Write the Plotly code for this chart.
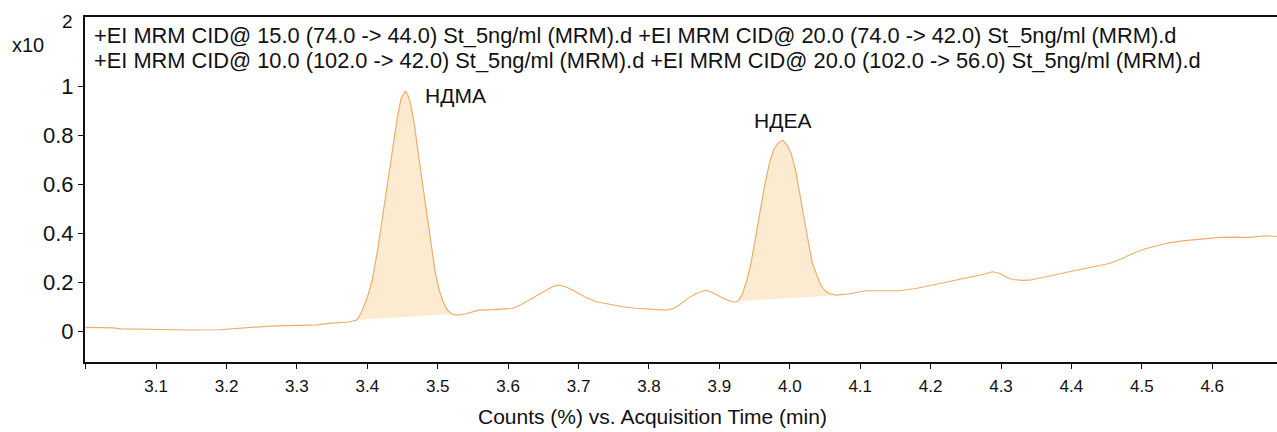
import plotly.graph_objects as go

# Acquisition time (min) and counts (x10^2)
time_min = [3.000, 3.020, 3.040, 3.050, 3.080, 3.110, 3.150, 3.190, 3.210, 3.240,
            3.270, 3.300, 3.330, 3.345, 3.374, 3.385, 3.391, 3.400, 3.407, 3.415,
            3.422, 3.430, 3.436, 3.443, 3.448, 3.454, 3.458, 3.462, 3.467, 3.471,
            3.476, 3.481, 3.486, 3.490, 3.496, 3.502, 3.508, 3.514, 3.520, 3.526,
            3.540, 3.549, 3.559, 3.580, 3.606, 3.618, 3.630, 3.642, 3.654, 3.664,
            3.673, 3.684, 3.696, 3.710, 3.725, 3.745, 3.763, 3.780, 3.800, 3.824,
            3.835, 3.843, 3.855, 3.867, 3.881, 3.890, 3.900, 3.910, 3.921, 3.927,
            3.933, 3.939, 3.945, 3.951, 3.957, 3.964, 3.971, 3.977, 3.983, 3.990,
            3.996, 4.002, 4.008, 4.013, 4.018, 4.023, 4.028, 4.032, 4.038, 4.044,
            4.050, 4.056, 4.066, 4.085, 4.108, 4.130, 4.156, 4.179, 4.200, 4.227,
            4.250, 4.264, 4.278, 4.288, 4.298, 4.306, 4.316, 4.330, 4.340, 4.355,
            4.369, 4.390, 4.416, 4.435, 4.454, 4.470, 4.487, 4.505, 4.525, 4.540,
            4.558, 4.585, 4.610, 4.630, 4.653, 4.676, 4.692]
counts = [0.018, 0.018, 0.016, 0.012, 0.010, 0.009, 0.007, 0.008, 0.013, 0.019,
          0.024, 0.026, 0.028, 0.034, 0.040, 0.048, 0.075, 0.140, 0.210, 0.340,
          0.480, 0.630, 0.750, 0.880, 0.950, 0.980, 0.960, 0.920, 0.840, 0.750,
          0.650, 0.550, 0.450, 0.350, 0.250, 0.170, 0.120, 0.088, 0.072, 0.068,
          0.072, 0.081, 0.088, 0.090, 0.095, 0.110, 0.130, 0.150, 0.170, 0.185,
          0.190, 0.180, 0.163, 0.140, 0.122, 0.110, 0.102, 0.096, 0.091, 0.088,
          0.095, 0.109, 0.135, 0.156, 0.170, 0.160, 0.145, 0.130, 0.120, 0.125,
          0.156, 0.210, 0.280, 0.380, 0.480, 0.590, 0.685, 0.740, 0.767, 0.780,
          0.760, 0.726, 0.660, 0.577, 0.490, 0.414, 0.340, 0.278, 0.230, 0.190,
          0.168, 0.156, 0.149, 0.155, 0.167, 0.168, 0.167, 0.176, 0.188, 0.204,
          0.218, 0.227, 0.236, 0.244, 0.238, 0.225, 0.213, 0.209, 0.210, 0.218,
          0.227, 0.240, 0.255, 0.265, 0.278, 0.295, 0.319, 0.338, 0.353, 0.363,
          0.370, 0.378, 0.384, 0.385, 0.384, 0.391, 0.388]

# Integrated peak windows (start, end) in minutes
peak_names = ["НДМА", "НДЕА"]
peak_windows = [(3.380, 3.520), (3.927, 4.066)]
peak_label_x = [3.525, 3.989]
peak_label_y = [0.963, 0.858]

header_lines = [
    "+EI MRM CID@ 15.0 (74.0 -> 44.0) St_5ng/ml (MRM).d +EI MRM CID@ 20.0 (74.0 -> 42.0) St_5ng/ml (MRM).d",
    "+EI MRM CID@ 10.0 (102.0 -> 42.0) St_5ng/ml (MRM).d +EI MRM CID@ 20.0 (102.0 -> 56.0) St_5ng/ml (MRM).d",
]
x_tick_vals = [3.0, 3.1, 3.2, 3.3, 3.4, 3.5, 3.6, 3.7, 3.8, 3.9, 4.0, 4.1, 4.2, 4.3, 4.4, 4.5, 4.6]
x_tick_text = ["", "3.1", "3.2", "3.3", "3.4", "3.5", "3.6", "3.7", "3.8", "3.9", "4.0",
               "4.1", "4.2", "4.3", "4.4", "4.5", "4.6"]
y_tick_vals = [0, 0.2, 0.4, 0.6, 0.8, 1.0]
y_tick_text = ["0", "0.2", "0.4", "0.6", "0.8", "1"]

FONT = "Liberation Sans, Arial, sans-serif"
LINE_COLOR = "rgb(240,172,105)"
FILL_COLOR = "rgba(253,230,198,0.8)"

L, T, W, H = 85, 17, 1192, 345


def px_to_paper(px, py):
    return (px - L) / W, (T + H - py) / H


fig = go.Figure()

for (t0, t1) in peak_windows:
    xs = [t for t in time_min if t0 <= t <= t1]
    ys = [c for t, c in zip(time_min, counts) if t0 <= t <= t1]
    fig.add_trace(go.Scatter(x=xs, y=ys, mode="lines", fill="toself",
                             fillcolor=FILL_COLOR,
                             line=dict(width=0.6, color="rgba(240,172,105,0.5)"),
                             hoverinfo="skip", showlegend=False))

fig.add_trace(go.Scatter(x=time_min, y=counts, mode="lines",
                         line=dict(color=LINE_COLOR, width=1.1),
                         showlegend=False))

annotations = []
for name, lx, ly in zip(peak_names, peak_label_x, peak_label_y):
    annotations.append(dict(x=lx, y=ly, xref="x", yref="y", text=name, showarrow=False,
                            font=dict(family=FONT, size=21, color="#111")))

for line, py in zip(header_lines, [36, 60]):
    ax, ay = px_to_paper(92, py)
    annotations.append(dict(x=ax, y=ay, xref="paper", yref="paper", text=line,
                            showarrow=False, xanchor="left", yanchor="middle",
                            font=dict(family=FONT, size=21.8, color="#111")))

ax, ay = px_to_paper(28, 45)
annotations.append(dict(x=ax, y=ay, xref="paper", yref="paper", text="x10", showarrow=False,
                        xanchor="center", yanchor="middle",
                        font=dict(family=FONT, size=20, color="#111")))
ax, ay = px_to_paper(67, 21)
annotations.append(dict(x=ax, y=ay, xref="paper", yref="paper", text="2", showarrow=False,
                        xanchor="center", yanchor="middle",
                        font=dict(family=FONT, size=19, color="#111")))
ax, ay = px_to_paper(652, 416)
annotations.append(dict(x=ax, y=ay, xref="paper", yref="paper",
                        text="Counts (%) vs. Acquisition Time (min)", showarrow=False,
                        xanchor="center", yanchor="middle",
                        font=dict(family=FONT, size=21, color="#111")))

fig.update_layout(
    width=1277, height=432,
    margin=dict(l=L, r=0, t=T, b=432 - T - H),
    paper_bgcolor="white", plot_bgcolor="white",
    font=dict(family=FONT, color="#111"),
    annotations=annotations,
    xaxis=dict(range=[2.999, 4.692], tickvals=x_tick_vals, ticktext=x_tick_text,
               showline=True, linecolor="#111", linewidth=2, mirror=True,
               ticks="outside", ticklen=5, tickcolor="#111", showgrid=False, zeroline=False,
               tickfont=dict(family=FONT, size=17, color="#111"), ticklabelstandoff=3),
    yaxis=dict(range=[-0.123, 1.281], tickvals=y_tick_vals, ticktext=y_tick_text,
               showline=True, linecolor="#111", linewidth=2,
               ticks="outside", ticklen=5, tickcolor="#111", showgrid=False, zeroline=False,
               tickfont=dict(family=FONT, size=22, color="#111")),
)

fig.write_html("out.html")
